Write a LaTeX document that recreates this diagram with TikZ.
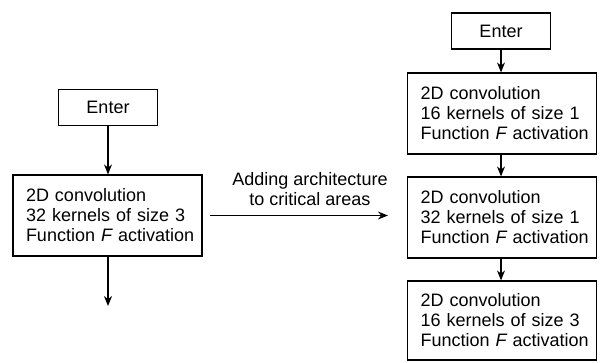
\documentclass[tikz,border=0pt]{standalone}
\usepackage{fontspec}
\setmainfont{Liberation Sans}
\usetikzlibrary{arrows.meta}
\newcommand{\lind}{\hspace*{6pt}}
\begin{document}
\begin{tikzpicture}[x=1pt,y=1pt,
  font=\fontsize{18}{20}\selectfont,
  enterbox/.style={draw, line width=1.2pt, minimum width=99pt, minimum height=36pt, inner sep=0pt},
  convbox/.style={draw, line width=1.2pt, text width=175pt, inner xsep=7pt, align=left, minimum height=81pt},
  arr/.style={line width=1.2pt, -{Stealth[length=10pt,width=8pt]}}]
\useasboundingbox (0,0) rectangle (601,362);
\node[enterbox] (enterL) at (108,254.5) {Enter};
\node[convbox] (convL) at (107.5,146.5) {\lind 2D convolution\\\lind 32 kernels of size 3\\\lind Function {\itshape F} activation};
\coordinate (outL) at (108,56);
\node[enterbox] (enterR) at (501,331) {Enter};
\node[convbox] (c1) at (502,248.5) {\lind 2D convolution\\\lind 16 kernels of size 1\\\lind Function {\itshape F} activation};
\node[convbox] (c2) at (502,144.5) {\lind 2D convolution\\\lind 32 kernels of size 1\\\lind Function {\itshape F} activation};
\node[convbox, minimum height=79pt] (c3) at (502,41.5) {\lind 2D convolution\\\lind 16 kernels of size 3\\\lind Function {\itshape F} activation};
\draw[arr] (enterL) -- (convL.north -| enterL);
\draw[arr] (convL.south -| outL) -- (outL);
\draw[arr] (enterR) -- (c1.north -| enterR);
\draw[arr] (c1.south -| enterR) -- (c2.north -| enterR);
\draw[arr] (c2.south -| enterR) -- (c3.north -| enterR);
\draw[arr, shorten <=7pt, shorten >=19pt] (convL.east) -- (convL.east -| c2.west);
\node[align=center, inner sep=0pt] (lbl) at (310,173) {Adding architecture\\to critical areas};
\end{tikzpicture}
\end{document}
